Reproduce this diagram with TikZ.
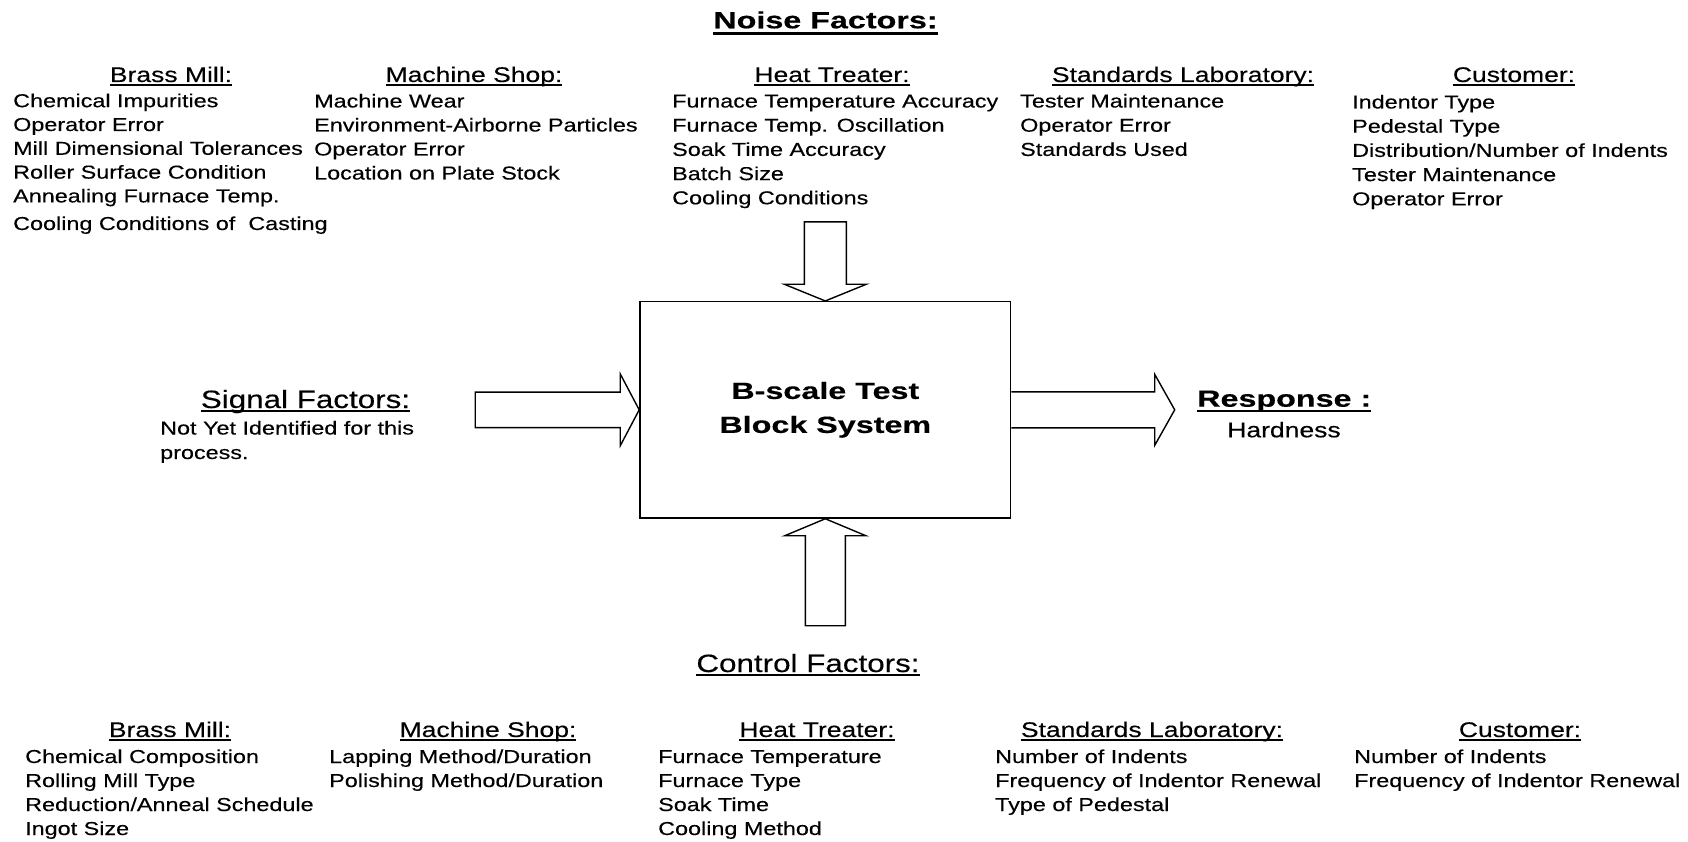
\documentclass[tikz,border=0pt]{standalone}
\usepackage{fontspec}
\setmainfont{Liberation Sans}
\newfontfamily\txtface{Liberation Sans}[FakeStretch=1.25, FakeBold=0.3]
\newfontfamily\hdface{Liberation Sans}[FakeStretch=1.38, FakeBold=0.4]
\usetikzlibrary{calc}

% underline: #1 = depth of the rule's lower edge below the baseline, #2 = thickness
\newcommand{\myul}[3]{\setbox0=\hbox{#3}\rlap{\rule[-#1]{\wd0}{#2}}\box0}

\tikzset{
  item/.style={anchor=base west, inner sep=0pt, font=\txtface\fontsize{18.7}{24}\selectfont},
  subhead/.style={anchor=base, inner sep=0pt, font=\txtface\fontsize{21.2}{24}\selectfont},
  grouphead/.style={anchor=base, inner sep=0pt, font=\txtface\fontsize{25.1}{28}\selectfont},
  mainhead/.style={anchor=base, inner sep=0pt, font=\hdface\bfseries\fontsize{23.4}{34}\selectfont},
  sysbox/.style={draw, line width=1.5pt, minimum width=370.7pt, minimum height=216.3pt,
    inner sep=0pt, align=center, font=\hdface\bfseries\fontsize{23.4}{34}\selectfont},
  blockarrow/.style={draw, line width=1.4pt, line join=miter}
}

\begin{document}
\begin{tikzpicture}[x=1pt, y=-1pt]
\path[use as bounding box] (0,0) rectangle (1688,842);

% ---------- central system ----------
\node[sysbox] (box) at (825.3,409.85) {B-scale Test\\Block System};

% block arrows into and out of the system
\draw[blockarrow] (box.north) -- ++(-41,-16.7) -- ++(20,0) -- ++(0,-62.3)
  -- ++(42,0) -- ++(0,62.3) -- ++(20,0) -- cycle;
\draw[blockarrow] (box.south) -- ++(-40.6,17) -- ++(20.6,0) -- ++(0,90)
  -- ++(40,0) -- ++(0,-90) -- ++(20.6,0) -- cycle;
\draw[blockarrow] (box.west) -- ++(-19,-36) -- ++(0,18.3) -- ++(-145,0)
  -- ++(0,35.4) -- ++(145,0) -- ++(0,18.3) -- cycle;
\draw[blockarrow] ($(box.east)+(0,-18)$) -- ++(143.3,0) -- ++(0,-17.5)
  -- ++(20,35.5) -- ++(-20,35.5) -- ++(0,-17.5) -- ++(-143.3,0);

% ---------- noise factors ----------
\node[mainhead] (noise) at (825.5,28.3) {\myul{6.7pt}{2.7pt}{Noise Factors:}};

\node[subhead] (nbrass) at (171,82) {\myul{3.6pt}{1.5pt}{Brass Mill:}};
\node[subhead] (nmach)  at (474,82) {\myul{3.6pt}{1.5pt}{Machine Shop:}};
\node[subhead] (nheat)  at (832,82) {\myul{3.6pt}{1.5pt}{Heat Treater:}};
\node[subhead] (nstd)   at (1183,82) {\myul{3.6pt}{1.5pt}{Standards Laboratory:}};
\node[subhead] (ncust)  at (1514,82) {\myul{3.6pt}{1.5pt}{Customer:}};

\foreach \t [count=\i from 0] in {Chemical Impurities, Operator Error,
    Mill Dimensional Tolerances, Roller Surface Condition, Annealing Furnace Temp.}
  \node[item] (nbrass-\i) at (13,{107.2+23.8*\i}) {\t};
\node[item] (nbrass-5) at (13,230) {Cooling Conditions of\ \ Casting};

\foreach \t [count=\i from 0] in {Machine Wear, Environment-Airborne Particles,
    Operator Error, Location on Plate Stock}
  \node[item] (nmach-\i) at (314,{107.5+24*\i}) {\t};

\foreach \t [count=\i from 0] in {Furnace Temperature Accuracy, Furnace Temp. Oscillation,
    Soak Time Accuracy, Batch Size, Cooling Conditions}
  \node[item] (nheat-\i) at (672,{107.5+24.2*\i}) {\t};

\foreach \t [count=\i from 0] in {Tester Maintenance, Operator Error, Standards Used}
  \node[item] (nstd-\i) at (1020,{107.5+24.2*\i}) {\t};

\foreach \t [count=\i from 0] in {Indentor Type, Pedestal Type,
    Distribution/Number of Indents, Tester Maintenance, Operator Error}
  \node[item] (ncust-\i) at (1352,{108.5+24.2*\i}) {\t};

% ---------- signal factors ----------
\node[grouphead] (signal) at (305.5,408) {\myul{4.2pt}{1.8pt}{Signal Factors:}};
\node[item] (signal-0) at (160,434.5) {Not Yet Identified for this};
\node[item] (signal-1) at (160,459) {process.};

% ---------- response ----------
\node[mainhead, anchor=base west] (resp) at (1197,406.7) {\myul{5.5pt}{2.5pt}{Response :}};
\node[subhead] (hard) at (1284,437.3) {Hardness};

% ---------- control factors ----------
\node[grouphead] (control) at (808,672) {\myul{4.2pt}{1.8pt}{Control Factors:}};

\node[subhead] (cbrass) at (170,737) {\myul{3.6pt}{1.5pt}{Brass Mill:}};
\node[subhead] (cmach)  at (488,737) {\myul{3.6pt}{1.5pt}{Machine Shop:}};
\node[subhead] (cheat)  at (817,737) {\myul{3.6pt}{1.5pt}{Heat Treater:}};
\node[subhead] (cstd)   at (1152,737) {\myul{3.6pt}{1.5pt}{Standards Laboratory:}};
\node[subhead] (ccust)  at (1520,737) {\myul{3.6pt}{1.5pt}{Customer:}};

\foreach \t [count=\i from 0] in {Chemical Composition, Rolling Mill Type,
    Reduction/Anneal Schedule, Ingot Size}
  \node[item] (cbrass-\i) at (25,{763+24*\i}) {\t};

\foreach \t [count=\i from 0] in {Lapping Method/Duration, Polishing Method/Duration}
  \node[item] (cmach-\i) at (329,{763+24*\i}) {\t};

\foreach \t [count=\i from 0] in {Furnace Temperature, Furnace Type, Soak Time, Cooling Method}
  \node[item] (cheat-\i) at (658,{763+24*\i}) {\t};

\foreach \t [count=\i from 0] in {Number of Indents, Frequency of Indentor Renewal, Type of Pedestal}
  \node[item] (cstd-\i) at (995,{763+24*\i}) {\t};

\foreach \t [count=\i from 0] in {Number of Indents, Frequency of Indentor Renewal}
  \node[item] (ccust-\i) at (1354,{763+24*\i}) {\t};
\end{tikzpicture}
\end{document}
